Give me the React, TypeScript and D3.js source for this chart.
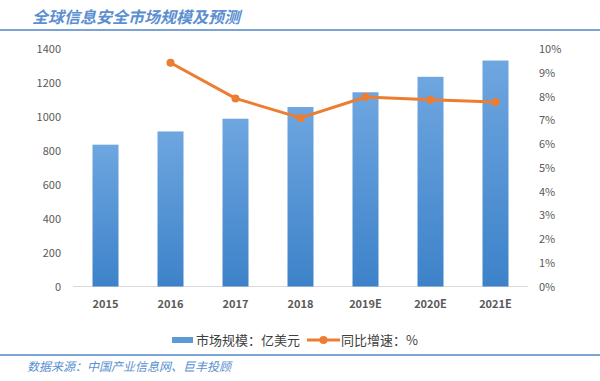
import React from "react";
import * as d3 from "d3";

const categories = ["2015", "2016", "2017", "2018", "2019E", "2020E", "2021E"];
const marketSize = [836, 914, 989, 1058, 1145, 1236, 1332];
const growth: (number | null)[] = [null, 9.42, 7.92, 7.1, 7.98, 7.86, 7.77];
const leftTicks = [0, 200, 400, 600, 800, 1000, 1200, 1400];
const rightTicks = [0, 1, 2, 3, 4, 5, 6, 7, 8, 9, 10];

const W = 600;
const H = 381;
const plot = { left: 73, right: 528, top: 49, bottom: 286.5 };
const font = "'Microsoft YaHei', 'Noto Sans CJK SC', 'DejaVu Sans', sans-serif";

export default function App() {
  const x = d3.scaleBand<string>().domain(categories).range([plot.left, plot.right]).paddingInner(0.6).paddingOuter(0.3);
  const yL = d3.scaleLinear().domain([0, 1400]).range([plot.bottom, plot.top]);
  const yR = d3.scaleLinear().domain([0, 10]).range([plot.bottom, plot.top]);
  const pts = categories
    .map((c, i) => ({ c, v: growth[i] }))
    .filter((d) => d.v !== null) as { c: string; v: number }[];
  const line = d3
    .line<{ c: string; v: number }>()
    .x((d) => (x(d.c) as number) + x.bandwidth() / 2)
    .y((d) => yR(d.v));

  return (
    <svg width={W} height={H} style={{ position: "absolute", left: 0, top: 0, background: "#fff" }}>
      <defs>
        <linearGradient id="barGrad" x1="0" y1="0" x2="0" y2="1">
          <stop offset="0%" stopColor="#6ea6e0" />
          <stop offset="100%" stopColor="#3d82c9" />
        </linearGradient>
      </defs>
      <rect width={W} height={H} fill="#fff" />
      <text x={32} y={23} fontFamily={font} fontSize={16} fontStyle="italic" fontWeight="bold" fill="#5b8fd0">
        全球信息安全市场规模及预测
      </text>
      <line x1={0} x2={W} y1={30} y2={30} stroke="#4f86c6" strokeWidth={1.5} />

      {leftTicks.map((t) => (
        <text key={t} x={61} y={yL(t) + 4} textAnchor="end" fontFamily={font} fontSize={11} fill="#595959">
          {t}
        </text>
      ))}
      {rightTicks.map((t) => (
        <text key={t} x={539} y={yR(t) + 4} textAnchor="start" fontFamily={font} fontSize={11} fill="#595959">
          {t}%
        </text>
      ))}

      <line x1={plot.left} x2={plot.right} y1={plot.bottom} y2={plot.bottom} stroke="#d9d9d9" strokeWidth={1} />

      {categories.map((c, i) => (
        <rect
          key={c}
          x={x(c)}
          y={yL(marketSize[i])}
          width={x.bandwidth()}
          height={plot.bottom - yL(marketSize[i])}
          fill="url(#barGrad)"
        />
      ))}
      {categories.map((c) => (
        <text
          key={c}
          x={(x(c) as number) + x.bandwidth() / 2}
          y={308}
          textAnchor="middle"
          fontFamily={font}
          fontSize={11}
          fontWeight="bold"
          fill="#595959"
        >
          {c}
        </text>
      ))}

      <path d={line(pts) || ""} fill="none" stroke="#ed7d31" strokeWidth={3} strokeLinejoin="round" />
      {pts.map((d) => (
        <circle key={d.c} cx={(x(d.c) as number) + x.bandwidth() / 2} cy={yR(d.v)} r={4} fill="#ed7d31" />
      ))}

      <rect x={172} y={337} width={21} height={6} fill="#5b9bd5" />
      <text x={196} y={345} fontFamily={font} fontSize={13} fill="#404040">
        市场规模：亿美元
      </text>
      <line x1={307} x2={340} y1={340} y2={340} stroke="#ed7d31" strokeWidth={3} />
      <circle cx={323.5} cy={340} r={4} fill="#ed7d31" />
      <text x={341} y={345} fontFamily={font} fontSize={13} fill="#404040">
        同比增速：%
      </text>

      <line x1={0} x2={W} y1={355} y2={355} stroke="#4f86c6" strokeWidth={1.5} />
      <text x={27} y={371} fontFamily={font} fontSize={12} fontStyle="italic" fill="#5b8fd0">
        数据来源：中国产业信息网、巨丰投顾
      </text>
    </svg>
  );
}
